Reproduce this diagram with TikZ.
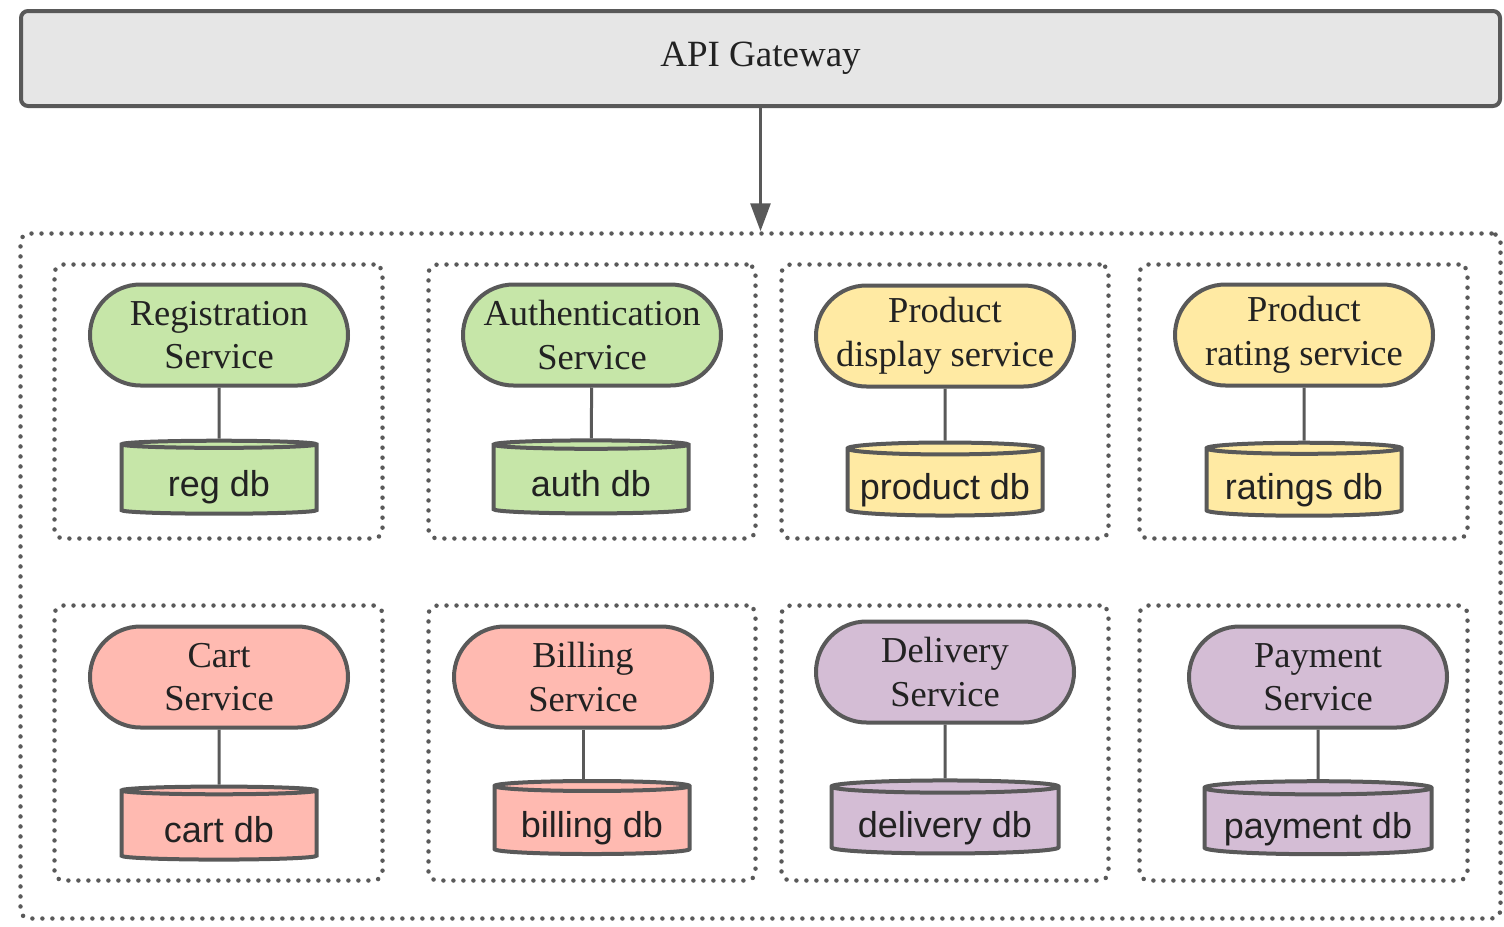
\documentclass[tikz,border=0pt]{standalone}
\usepackage{fontspec}
\setmainfont{Liberation Serif}
\setsansfont{Liberation Sans}
\usetikzlibrary{arrows.meta, shapes.geometric, shapes.misc, positioning}
\definecolor{edgeGray}{HTML}{595959}
\definecolor{textDark}{HTML}{222222}
\definecolor{gateFill}{HTML}{E6E6E6}
\definecolor{greenFill}{HTML}{C6E6A8}
\definecolor{yellowFill}{HTML}{FFEAA3}
\definecolor{pinkFill}{HTML}{FFBAB1}
\definecolor{purpleFill}{HTML}{D4BDD5}
\tikzset{
    gateBox/.style={rectangle, draw=edgeGray, line width=4pt, fill=gateFill, rounded corners=7pt, inner sep=0pt, text=textDark, font=\fontsize{37}{44}\selectfont},
    svcNode/.style={rounded rectangle, draw=edgeGray, line width=4pt, minimum width=258pt, minimum height=101pt, inner sep=0pt, align=center, text=textDark, font=\fontsize{36.5}{43.5}\selectfont},
    dbNode/.style={cylinder, shape border rotate=90, aspect=0.07, draw=edgeGray, line width=4pt, minimum width=195pt, minimum height=73pt, inner sep=0pt, text height=32pt, text depth=0pt, text=textDark, font=\sffamily\fontsize{36}{40}\selectfont},
    dotBox/.style={rectangle, draw=edgeGray, line width=4.5pt, dash pattern=on 0pt off 10pt, line cap=round, rounded corners=9pt, inner sep=0pt},
    svcLink/.style={draw=edgeGray, line width=3pt},
    gateArrow/.style={-{Triangle[length=28pt, width=20pt]}, draw=edgeGray, fill=edgeGray, line width=3pt},
}
\newcommand{\linkDb}[2]{
    \draw[svcLink] (#1) -- (#2);
}

\begin{document}
\begin{tikzpicture}[x=1pt, y=-1pt]
    \useasboundingbox (0,0) rectangle (1504,926);

    % gateway and the whole cluster
    \node[gateBox, minimum width=1479pt, minimum height=95pt] (gate) at (760.5,58.5) {API Gateway};
    \node[dotBox, minimum width=1480pt, minimum height=685pt] (cluster) at (760.5,576) {};
    \draw[gateArrow] (gate.south) -- (cluster.north);

    % group boxes
    \node[dotBox, minimum width=328pt, minimum height=274pt] (grpReg) at (218.5,401.5) {};
    \node[dotBox, minimum width=327pt, minimum height=274pt] (grpAuth) at (592,401.5) {};
    \node[dotBox, minimum width=327pt, minimum height=274pt] (grpProd) at (945,401.5) {};
    \node[dotBox, minimum width=328pt, minimum height=274pt] (grpRate) at (1303.5,401.5) {};
    \node[dotBox, minimum width=328pt, minimum height=275pt] (grpCart) at (218.5,743) {};
    \node[dotBox, minimum width=327pt, minimum height=275pt] (grpBill) at (592,743) {};
    \node[dotBox, minimum width=327pt, minimum height=275pt] (grpDeliv) at (945,743) {};
    \node[dotBox, minimum width=328pt, minimum height=275pt] (grpPay) at (1303.5,743) {};

    % services
    \node[svcNode, fill=greenFill] (regSvc) at (219,335) {Registration\\Service};
    \node[svcNode, fill=greenFill] (authSvc) at (592,335) {Authentication\\Service};
    \node[svcNode, fill=yellowFill] (prodSvc) at (945,336) {Product\\display service};
    \node[svcNode, fill=yellowFill] (rateSvc) at (1304,335) {Product\\rating service};
    \node[svcNode, fill=pinkFill] (cartSvc) at (219,677) {Cart\\Service};
    \node[svcNode, fill=pinkFill] (billSvc) at (583,677) {Billing\\Service};
    \node[svcNode, fill=purpleFill] (delivSvc) at (945,672) {Delivery\\Service};
    \node[svcNode, fill=purpleFill] (paySvc) at (1318,677) {Payment\\Service};

    % databases
    \node[dbNode, fill=greenFill] (regDb) at (219,480) {reg db};
    \node[dbNode, fill=greenFill] (authDb) at (591,480) {auth db};
    \node[dbNode, fill=yellowFill] (prodDb) at (945,483) {product db};
    \node[dbNode, fill=yellowFill] (rateDb) at (1304,483) {ratings db};
    \node[dbNode, fill=pinkFill] (cartDb) at (219,826) {cart db};
    \node[dbNode, fill=pinkFill] (billDb) at (592,821) {billing db};
    \node[dbNode, fill=purpleFill, minimum width=227pt] (delivDb) at (945,821) {delivery db};
    \node[dbNode, fill=purpleFill, minimum width=227pt] (payDb) at (1318,822) {payment db};

    \linkDb{regSvc}{regDb}
    \linkDb{authSvc}{authDb}
    \linkDb{prodSvc}{prodDb}
    \linkDb{rateSvc}{rateDb}
    \linkDb{cartSvc}{cartDb}
    \linkDb{billSvc.south}{billSvc.south |- billDb.north}
    \linkDb{delivSvc}{delivDb}
    \linkDb{paySvc}{payDb}

\end{tikzpicture}
\end{document}
